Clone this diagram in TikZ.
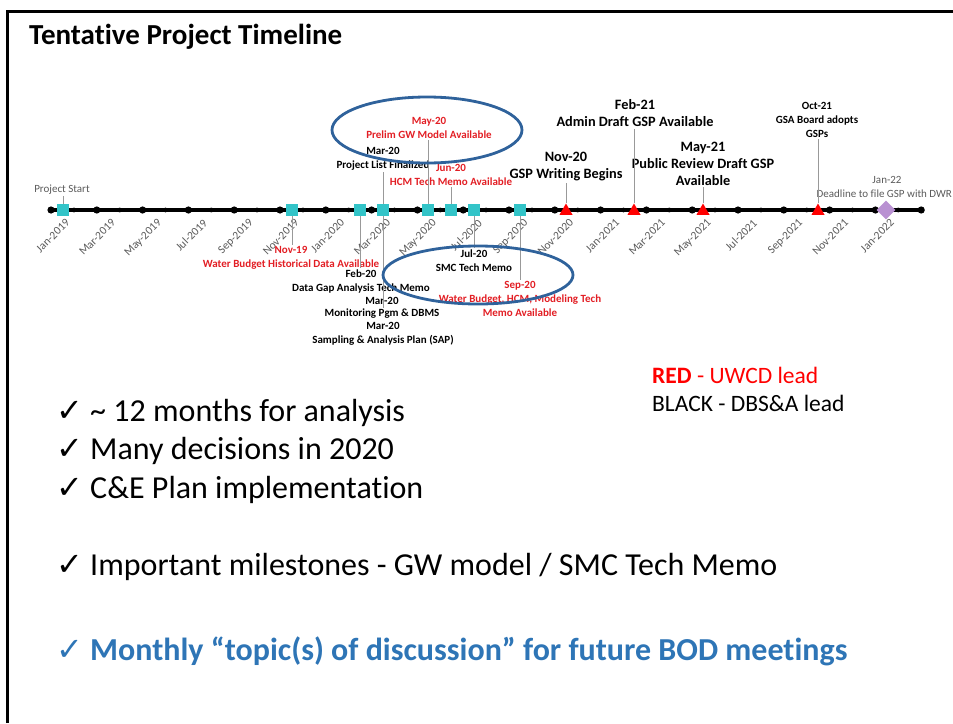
\documentclass[tikz,border=0pt]{standalone}
\usepackage{fontspec}
\setmainfont{Carlito}[Ligatures={TeX,NoCommon}]
\newfontfamily\symfont{DejaVu Sans}
\usetikzlibrary{shapes.geometric}

\definecolor{tealmark}{RGB}{51,196,200}
\definecolor{lavmark}{RGB}{185,145,210}
\definecolor{ovalblue}{RGB}{47,98,155}
\definecolor{labred}{RGB}{226,30,36}
\definecolor{headblue}{RGB}{46,117,182}
\definecolor{axgray}{RGB}{90,90,90}
\newcommand{\chk}{{\symfont\fontsize{32}{32}\selectfont ✓}}

\begin{document}
\begin{tikzpicture}[x=1pt, y=-1pt,
    sq/.style={rectangle, fill=tealmark, minimum size=12.5pt, inner sep=0pt},
    tri/.style={regular polygon, regular polygon sides=3, fill=red, minimum size=15pt, inner sep=0pt},
    dia/.style={diamond, fill=lavmark, minimum size=19pt, inner sep=0pt},
    lead/.style={draw=black!40, line width=0.9pt},
    small/.style={font=\bfseries\fontsize{11}{14}\selectfont, align=center, inner sep=1.5pt},
    big/.style={font=\bfseries\fontsize{14.3}{17}\selectfont, align=center, inner sep=1.5pt},
    note/.style={font=\fontsize{11}{13}\selectfont, text=axgray, inner sep=1.5pt},
    ticklab/.style={font=\fontsize{11.5}{12}\selectfont, text=axgray, rotate=45, anchor=north east, inner sep=0pt},
    oval/.style={ellipse, draw=ovalblue, line width=2.8pt, inner sep=0pt}]
		\useasboundingbox (0,0) rectangle (953,723);
		\clip (0,0) rectangle (953,723);
		\draw[line width=3pt] (7,723) -- (7,11) -- (953,11);
		
		\node[font=\bfseries\fontsize{29}{32}\selectfont, anchor=west, inner sep=0pt] (title) at (29,37) {Tentative Project Timeline};
		
		% axis
		\coordinate (ax-a) at (49,210);
		\coordinate (ax-b) at (921,210);
		\draw[line width=3.5pt] (ax-a) -- (ax-b);
		\foreach \k in {0,...,19}
			\fill ({51+45.8*\k},210) circle (3.6pt);
		\foreach \k in {0,...,18}
			\fill ({73.9+45.8*\k},210) circle (2.4pt);
		\foreach \lab [count=\k from 0] in {Jan-2019,Mar-2019,May-2019,Jul-2019,Sep-2019,Nov-2019,Jan-2020,Mar-2020,May-2020,Jul-2020,Sep-2020,Nov-2020,Jan-2021,Mar-2021,May-2021,Jul-2021,Sep-2021,Nov-2021,Jan-2022}
			\node[ticklab] (tk-\k) at ({65+45.8*\k},218) {\lab};
		
		% markers
		\node[sq] (sq-start) at (63,210) {};
		\node[sq] (sq-nov19) at (292,210) {};
		\node[sq] (sq-feb20) at (360,210) {};
		\node[sq] (sq-mar20) at (383,210) {};
		\node[sq] (sq-may20) at (428,210) {};
		\node[sq] (sq-jun20) at (451,210) {};
		\node[sq] (sq-jul20) at (474,210) {};
		\node[sq] (sq-sep20) at (520,210) {};
		\node[tri] (tr-nov20) at (566,211) {};
		\node[tri] (tr-feb21) at (634,211) {};
		\node[tri] (tr-may21) at (703,211) {};
		\node[tri] (tr-oct21) at (818,211) {};
		\node[dia] (di-jan22) at (886,210) {};
		
		% labels
		\node[note] (lb-start) at (62,190) {Project Start};
		\node[small, text=labred] (lb-nov19) at (291,258) {Nov-19\\Water Budget Historical Data Available};
		\node[small] (lb-feb20) at (361,281.5) {Feb-20\\Data Gap Analysis Tech Memo};
		\node[small] (lb-mar20) at (383,159) {Mar-20\\Project List Finalized};
		\node[small] (dt-monitor) at (382,301) {Mar-20};
		\node[small] (lb-monitor) at (382,314) {Monitoring Pgm \& DBMS};
		\node[small] (lb-sap) at (383,334) {Mar-20\\Sampling \& Analysis Plan (SAP)};
		\node[small, text=labred] (lb-may20) at (429,128) {May-20\\Prelim GW Model Available};
		\node[small, text=labred] (lb-jun20) at (451,174.5) {Jun-20\\HCM Tech Memo Available};
		\node[small] (lb-jul20) at (474,260.5) {Jul-20\\SMC Tech Memo};
		\node[small, text=labred] (lb-sep20) at (520,299) {Sep-20\\Water Budget, HCM, Modeling Tech\\Memo Available};
		\node[big] (lb-nov20) at (566,166.5) {Nov-20\\GSP Writing Begins};
		\node[big] (lb-feb21) at (635,113.5) {Feb-21\\Admin Draft GSP Available};
		\node[big] (lb-may21) at (703,164) {May-21\\Public Review Draft GSP\\Available};
		\node[small] (lb-oct21) at (817,119.5) {Oct-21\\GSA Board adopts\\GSPs};
		\node[note] (lb-jan22) at (887,180) {Jan-22};
		\node[note, anchor=west] (lb-dwr) at (815,194) {Deadline to file GSP with DWR};
		
		% leaders
		\draw[lead] (sq-start) -- (sq-start |- lb-start.south);
		\draw[lead] (sq-nov19) -- (sq-nov19 |- lb-nov19.north);
		\draw[lead] (sq-feb20) -- (sq-feb20 |- lb-feb20.north);
		\draw[lead] (sq-mar20) -- (sq-mar20 |- lb-mar20.south);
		\draw[lead] (sq-mar20) -- (sq-mar20 |- lb-monitor.north);
		\draw[lead] (sq-may20) -- (sq-may20 |- lb-may20.south);
		\draw[lead] (sq-jun20) -- (sq-jun20 |- lb-jun20.south);
		\draw[lead] (sq-jul20) -- (sq-jul20 |- lb-jul20.north);
		\draw[lead] (sq-sep20) -- (sq-sep20 |- lb-sep20.north);
		\draw[lead] (tr-nov20) -- (tr-nov20 |- lb-nov20.south);
		\draw[lead] (tr-feb21) -- (tr-feb21 |- lb-feb21.south);
		\draw[lead] (tr-may21) -- (tr-may21 |- lb-may21.south);
		\draw[lead] (tr-oct21) -- (tr-oct21 |- lb-oct21.south);
		
		% ovals
		\node[oval, minimum width=190pt, minimum height=66pt] (ov-model) at (427,130) {};
		\node[oval, minimum width=190pt, minimum height=58pt] (ov-smc) at (478,275) {};
		
		% legend and notes
		\node[anchor=west, align=left, inner sep=0pt, font=\fontsize{23.5}{28}\selectfont] (legend) at (652,389) {\textcolor{red}{\textbf{RED} - UWCD lead}\\BLACK - DBS\&A lead};
		\node[anchor=west, align=left, inner sep=0pt, font=\fontsize{32}{38.5}\selectfont] (list) at (56,451) {\chk\ \textasciitilde{} 12 months for analysis\\\chk\ Many decisions in 2020\\\chk\ C\&E Plan implementation};
		\node[anchor=west, inner sep=0pt, font=\fontsize{32}{36}\selectfont] (milestones) at (56,567) {\chk\ Important milestones - GW model / SMC Tech Memo};
		\node[anchor=west, inner sep=0pt, text=headblue, font=\bfseries\fontsize{32}{36}\selectfont] (monthly) at (56,651) {\chk\ Monthly “topic(s) of discussion” for future BOD meetings};
	\end{tikzpicture}
\end{document}
